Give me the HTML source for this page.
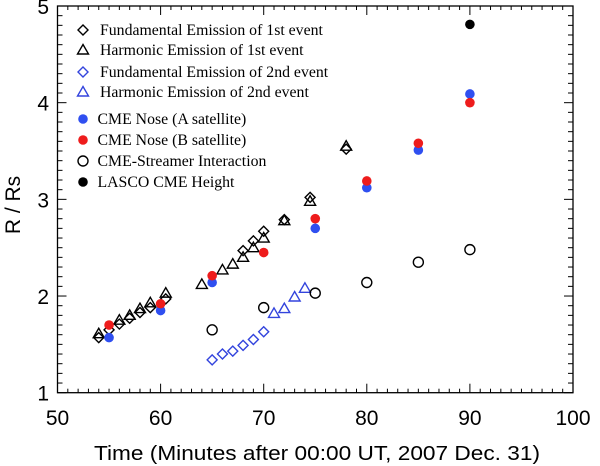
<!DOCTYPE html>
<html><head><meta charset="utf-8"><style>
html,body{margin:0;padding:0;background:#fff;}
svg{display:block;}
</style></head><body>
<svg id="chart" width="600" height="466" xmlns="http://www.w3.org/2000/svg">
<g id="axes"></g>
<g id="marks"></g>
<g id="legend"></g>
</svg>
<script>
const xTicks=[50,60,70,80,90,100];
const yTicks=[1,2,3,4,5];
const fund1X=[54,55,56,57,58,59,60.5,68,69,70,72,74.5,78];
const fund1Y=[1.57,1.65,1.71,1.77,1.83,1.88,1.97,2.47,2.57,2.67,2.79,3.02,3.52];
const harm1X=[54,56,57,58,59,60.5,64,66,67,68,69,70,72,74.5,78];
const harm1Y=[1.61,1.75,1.80,1.87,1.93,2.03,2.12,2.27,2.33,2.40,2.50,2.60,2.78,2.98,3.55];
const fund2X=[65,66,67,68,69,70];
const fund2Y=[1.34,1.40,1.43,1.49,1.55,1.63];
const harm2X=[71,72,73,74];
const harm2Y=[1.82,1.87,1.99,2.08];
const noseAX=[55,60,65,75,80,85,90];
const noseAY=[1.57,1.85,2.14,2.70,3.12,3.51,4.09];
const noseBX=[55,60,65,70,75,80,85,90];
const noseBY=[1.70,1.92,2.21,2.45,2.80,3.19,3.58,4.00];
const streamX=[65,70,75,80,85,90];
const streamY=[1.65,1.88,2.03,2.14,2.35,2.48];
const lascoX=[90];
const lascoY=[4.81];

const L=57.5,R=573,T=6,B=392.7;
const xs=v=>L+(v-50)/50*(R-L);
const ys=v=>B-(v-1)/4*(B-T);
const NS='http://www.w3.org/2000/svg';
function mk(tag,attrs,parent){const e=document.createElementNS(NS,tag);for(const k in attrs)e.setAttribute(k,attrs[k]);parent.appendChild(e);return e;}
const axes=document.getElementById('axes'),marks=document.getElementById('marks'),leg=document.getElementById('legend');
const frame=mk('rect',{x:L,y:T,width:R-L,height:B-T,fill:'none',stroke:'#000','stroke-width':1.3},axes);


for(let v=50;v<=100;v+=1){const x=xs(v);const big=(v%10===0);const len=big?9:4;
 mk('line',{x1:x,y1:B,x2:x,y2:B-len,stroke:'#000','stroke-width':1},axes);
 mk('line',{x1:x,y1:T,x2:x,y2:T+len,stroke:'#000','stroke-width':1},axes);}
for(let i=10;i<=50;i++){const v=i/10;const y=ys(v);const big=(i%10===0);const len=big?9:5;
 mk('line',{x1:L,y1:y,x2:L+len,y2:y,stroke:'#000','stroke-width':1},axes);
 mk('line',{x1:R,y1:y,x2:R-len,y2:y,stroke:'#000','stroke-width':1},axes);}
const ff='"Liberation Sans",sans-serif';
xTicks.forEach(v=>{const t=mk('text',{x:xs(v),y:425,'text-anchor':'middle','font-family':ff,'font-size':21},axes);t.textContent=v;
 
 });
yTicks.forEach(v=>{const t=mk('text',{x:49,y:ys(v)+8,'text-anchor':'end','font-family':ff,'font-size':21},axes);t.textContent=v;
 
 });
const xt=mk('text',{x:317,y:460,'text-anchor':'middle','font-family':ff,'font-size':20,textLength:446,lengthAdjust:'spacingAndGlyphs'},axes);xt.textContent='Time (Minutes after 00:00 UT, 2007 Dec. 31)';


const yt=mk('text',{x:0,y:0,'text-anchor':'middle','font-family':ff,'font-size':21,transform:'translate(20,205) rotate(-90)'},axes);yt.textContent='R / Rs';



function diamond(g,x,y,c){return mk('path',{d:`M${x} ${y-5}L${x+5} ${y}L${x} ${y+5}L${x-5} ${y}Z`,fill:'none',stroke:c,'stroke-width':1.4},g);}
function tri(g,x,y,c){return mk('path',{d:`M${x} ${y-5.5}L${x+5.5} ${y+4}L${x-5.5} ${y+4}Z`,fill:'none',stroke:c,'stroke-width':1.4},g);}
function dot(g,x,y,c){return mk('circle',{cx:x,cy:y,r:4.8,fill:c},g);}
function ring(g,x,y,c){return mk('circle',{cx:x,cy:y,r:5,fill:'none',stroke:c,'stroke-width':1.4},g);}
const series=[
 {n:'fundamental-1st',X:fund1X,Y:fund1Y,f:diamond,c:'#000'},
 {n:'harmonic-1st',X:harm1X,Y:harm1Y,f:tri,c:'#000'},
 {n:'fundamental-2nd',X:fund2X,Y:fund2Y,f:diamond,c:'#3344dd'},
 {n:'harmonic-2nd',X:harm2X,Y:harm2Y,f:tri,c:'#3344dd'},
 {n:'cme-nose-a',X:noseAX,Y:noseAY,f:dot,c:'#2f4ff0'},
 {n:'cme-nose-b',X:noseBX,Y:noseBY,f:dot,c:'#ee1c1c'},
 {n:'streamer',X:streamX,Y:streamY,f:ring,c:'#000'},
 {n:'lasco',X:lascoX,Y:lascoY,f:dot,c:'#000'}];
series.forEach(s=>{const g=mk('g',{},marks);
 
 
 s.X.forEach((x,i)=>{const e=s.f(g,xs(x),ys(s.Y[i]),s.c);
  
  });});
const labels=['Fundamental Emission of 1st event','Harmonic Emission of 1st event','Fundamental Emission of 2nd event','Harmonic Emission of 2nd event','CME Nose (A satellite)','CME Nose (B satellite)','CME-Streamer Interaction','LASCO CME Height'];
const rowsY=[30,50,72,92,119,140,161,182];
series.forEach((s,i)=>{const g=mk('g',{},leg);
 
 
 s.f(g,83,rowsY[i],s.c);
 const t=mk('text',{x:i<4?100:97.5,y:rowsY[i]+5,'font-family':'"Liberation Serif",serif','font-size':15.8},g);t.textContent=labels[i];});
</script>
</body></html>
